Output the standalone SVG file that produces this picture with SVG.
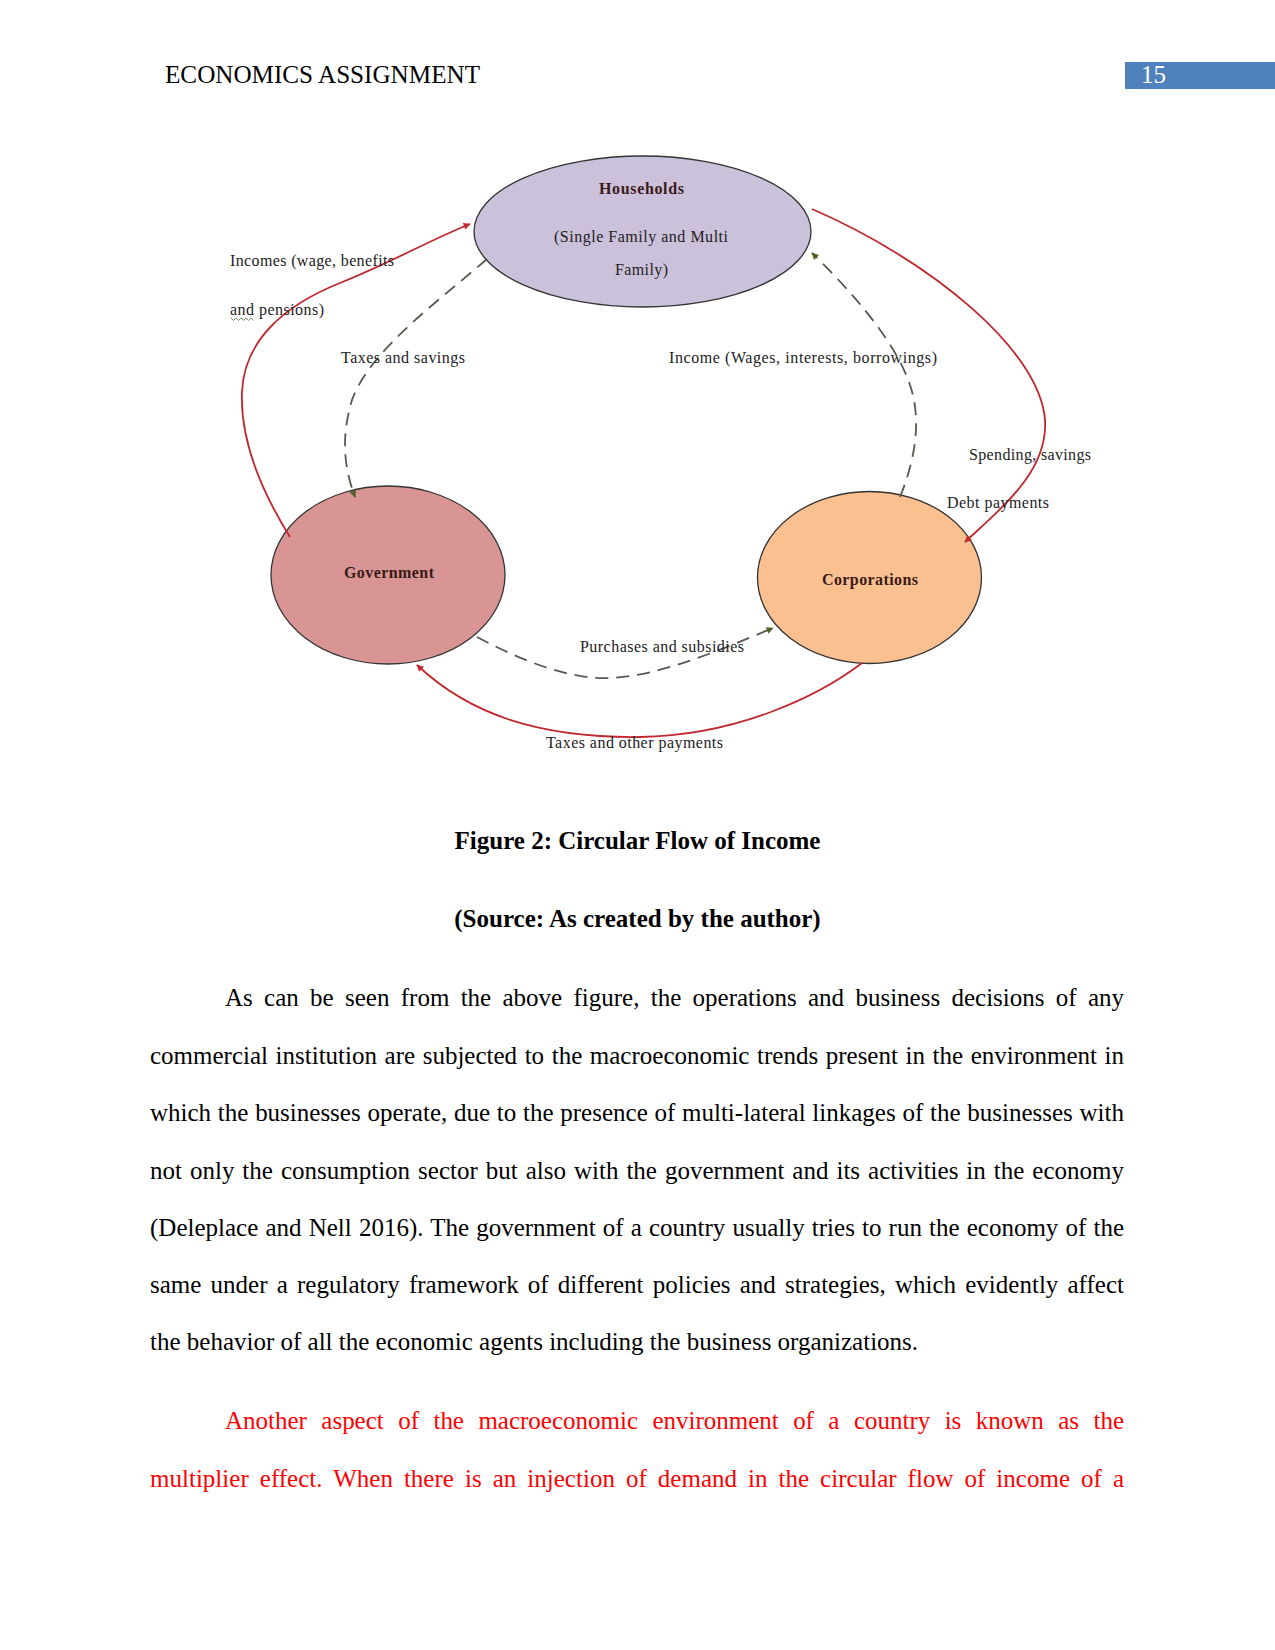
<svg xmlns="http://www.w3.org/2000/svg" width="1275" height="1650" viewBox="0 0 1275 1650">
<defs>
<style>
.hdr{font-family:"Liberation Serif","Times New Roman",serif;font-size:25px;fill:#000}
.body{font-family:"Liberation Serif","Times New Roman",serif;font-size:25px;fill:#000}
.red{fill:#ff0000}
.cap{font-family:"Liberation Serif","Times New Roman",serif;font-size:25px;font-weight:bold;fill:#000;text-anchor:middle}
.node{stroke:#333;stroke-width:1.3}
.nt{font-family:"Liberation Serif","Times New Roman",serif;font-size:16px;fill:#222}
.nb{font-weight:bold;fill:#3a1a1a}
.lbl{font-family:"Liberation Serif","Times New Roman",serif;font-size:16px;fill:#222}
.solid{fill:none;stroke:#c0282f;stroke-width:1.8}
.dash{fill:none;stroke:#555a50;stroke-width:1.8;stroke-dasharray:13 8}
</style>
<marker id="ar" viewBox="0 0 10 10" refX="9" refY="5" markerWidth="9" markerHeight="7" orient="auto" markerUnits="userSpaceOnUse">
<path d="M0,0 L10,5 L0,10 z" fill="#c0282f"/>
</marker>
<marker id="ag" viewBox="0 0 10 10" refX="9" refY="5" markerWidth="9" markerHeight="7" orient="auto" markerUnits="userSpaceOnUse">
<path d="M0,0 L10,5 L0,10 z" fill="#4f6228"/>
</marker>
</defs>
<rect width="1275" height="1650" fill="#fff"/>
<text class="hdr" x="165" y="83" textLength="315" lengthAdjust="spacingAndGlyphs">ECONOMICS ASSIGNMENT</text>
<rect x="1125" y="62" width="150" height="27" fill="#4f81bd"/>
<text class="hdr" x="1141" y="83" style="fill:#fff">15</text>

<g id="households">
<ellipse class="node" cx="642.5" cy="231.5" rx="168.5" ry="75.5" fill="#ccc1da"/>
<text class="nt nb" x="599" y="194" textLength="85" lengthAdjust="spacing">Households</text>
<text class="nt" x="554" y="242" textLength="174" lengthAdjust="spacing">(Single Family  and Multi</text>
<text class="nt" x="615" y="275" textLength="53" lengthAdjust="spacing">Family)</text>
</g>
<g id="government">
<ellipse class="node" cx="388" cy="575" rx="117" ry="89" fill="#d99594"/>
<text class="nt nb" x="344" y="578" textLength="90" lengthAdjust="spacing">Government</text>
</g>
<g id="corporations">
<ellipse class="node" cx="869.5" cy="577.5" rx="112" ry="86" fill="#fac090"/>
<text class="nt nb" x="822" y="585" textLength="96" lengthAdjust="spacing">Corporations</text>
</g>

<g id="connectors">
<path class="solid" d="M290,537 C262,492 240,440 242,392 C244,340 285,305 340,283 C390,263 430,240 470,224" marker-end="url(#ar)"/>
<path class="dash" d="M487,259 C440,300 370,350 352,400 C340,440 345,470 355,497" marker-end="url(#ag)"/>
<path class="dash" d="M900,497 C915,460 922,420 910,385 C895,340 850,290 812,253" marker-end="url(#ag)"/>
<path class="solid" d="M812,209 C930,260 1040,350 1045,420 C1048,470 1005,505 965,542" marker-end="url(#ar)"/>
<path class="dash" d="M477,637 C520,660 570,680 610,678 C660,676 720,650 773,628" marker-end="url(#ag)"/>
<path class="solid" d="M862,663 C820,695 740,735 640,737 C540,738 470,715 417,665" marker-end="url(#ar)"/>
</g>

<g id="labels">
<text class="lbl" x="230" y="266" textLength="164" lengthAdjust="spacing">Incomes (wage, benefits</text>
<text class="lbl" x="230" y="315" textLength="94" lengthAdjust="spacing">and pensions)</text>
<path d="M231,318 l2.5,2.5 l2.5,-2.5 l2.5,2.5 l2.5,-2.5 l2.5,2.5 l2.5,-2.5 l2.5,2.5 l2.5,-2.5 l2.5,2.5" fill="none" stroke="#6f8f6f" stroke-width="1"/>
<text class="lbl" x="341" y="363" textLength="124" lengthAdjust="spacing">Taxes and savings</text>
<text class="lbl" x="669" y="363" textLength="268" lengthAdjust="spacing">Income (Wages,  interests,  borrowings)</text>
<text class="lbl" x="969" y="460" textLength="122" lengthAdjust="spacing">Spending, savings</text>
<text class="lbl" x="947" y="508" textLength="102" lengthAdjust="spacing">Debt payments</text>
<text class="lbl" x="580" y="652" textLength="164" lengthAdjust="spacing">Purchases and subsidies</text>
<text class="lbl" x="546" y="748" textLength="177" lengthAdjust="spacing">Taxes and other payments</text>
</g>

<text class="cap" x="637.5" y="849">Figure 2: Circular Flow of Income</text>
<text class="cap" x="637.5" y="927">(Source: As created by the author)</text>

<text class="body" x="225" y="1006" word-spacing="5.07" textLength="899" lengthAdjust="spacing">As can be seen from the above figure, the operations and business decisions of any</text>
<text class="body" x="150" y="1064" word-spacing="1.33" textLength="974" lengthAdjust="spacing">commercial institution are subjected to the macroeconomic trends present in the environment in</text>
<text class="body" x="150" y="1121" word-spacing="0.5" textLength="974" lengthAdjust="spacing">which the businesses operate, due to the presence of multi-lateral linkages of the businesses with</text>
<text class="body" x="150" y="1179" word-spacing="1.73" textLength="974" lengthAdjust="spacing">not only the consumption sector but also with the government and its activities in the economy</text>
<text class="body" x="150" y="1236" word-spacing="0.87" textLength="974" lengthAdjust="spacing">(Deleplace and Nell 2016). The government of a country usually tries to run the economy of the</text>
<text class="body" x="150" y="1293" word-spacing="2.9" textLength="974" lengthAdjust="spacing">same under a regulatory framework of different policies and strategies, which evidently affect</text>
<text class="body" x="150" y="1350">the behavior of all the economic agents including the business organizations.</text>
<text class="body red" x="225" y="1429" word-spacing="8.2" textLength="899" lengthAdjust="spacing">Another aspect of the macroeconomic environment of a country is known as the</text>
<text class="body red" x="150" y="1487" word-spacing="4.75" textLength="974" lengthAdjust="spacing">multiplier effect. When there is an injection of demand in the circular flow of income of a</text>
</svg>
